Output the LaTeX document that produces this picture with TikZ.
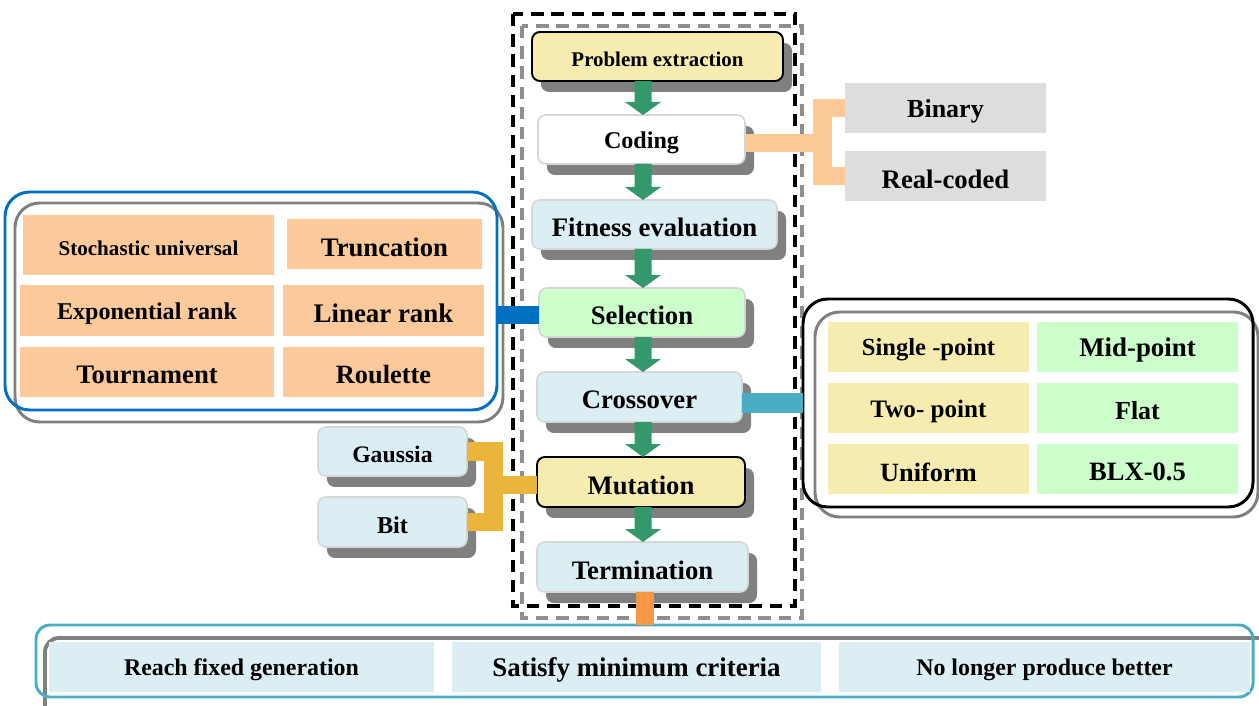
\documentclass[tikz,border=0pt]{standalone}
\usepackage{fontspec}
\setmainfont{Liberation Serif}
\usetikzlibrary{fit,shadows,calc}
\definecolor{yel}{HTML}{F7ECB0}
\definecolor{lblue}{HTML}{DAEEF3}
\definecolor{lgreen}{HTML}{CCFFCC}
\definecolor{org}{HTML}{FBC99A}
\definecolor{cellgray}{HTML}{DDDDDD}
\definecolor{boxline}{HTML}{D6D6D6}
\definecolor{shadowgray}{HTML}{808080}
\definecolor{agreen}{HTML}{33996A}
\definecolor{peach}{HTML}{FBC896}
\definecolor{goldc}{HTML}{EAB53A}
\definecolor{selblue}{HTML}{0070C0}
\definecolor{tealc}{HTML}{4BACC6}
\definecolor{orangec}{HTML}{F79646}
\definecolor{dashgray}{HTML}{8E8E8E}
\newcommand\fsz[1]{\fontsize{#1}{#1}\selectfont\bfseries}
\begin{document}
\begin{tikzpicture}[x=0.02cm,y=-0.02cm,
  box/.style={rectangle, inner sep=0pt, outer sep=0pt},
  T/.style 2 args={label={[font=\fsz{#1}, inner sep=0pt, yshift=-0.06cm]center:#2}},
  shad/.style={drop shadow={shadow xshift=0.18cm, shadow yshift=-0.22cm, opacity=1, fill=shadowgray}},
  mainbox/.style={box, rounded corners=4.5pt, draw=boxline, line width=0.9pt, shad},
  darkbox/.style={box, rounded corners=4.5pt, draw=black, line width=1.1pt, shad},
  cell/.style={box},
  panel/.style={rectangle, inner sep=0pt, outer sep=0pt, line width=1.7pt, rounded corners=14pt},
  blackdash/.style={draw=black, line width=2pt, dash pattern=on 7pt off 4.5pt},
  graydash/.style={draw=dashgray, line width=2pt, dash pattern=on 7pt off 4.5pt},
  bar/.style={line width=0.38cm, line cap=butt, line join=miter}
]
\useasboundingbox (0,0) rectangle (1259,706);
\clip (0,0) rectangle (1259,706);

% dashed frames
\draw[graydash] (522,26) rectangle (802,618);
\draw[blackdash] (513,14) rectangle (795,606);

% main column
\node[darkbox, fill=yel, fit={(532,32)(783,81)}, T={11.9}{Problem extraction}] (prob) {};
\node[mainbox, fill=white, fit={(538,115)(745,164)}, T={13.7}{Coding}] (coding) {};
\node[mainbox, fill=lblue, fit={(532,200)(777,249)}, T={15.2}{Fitness evaluation}] (fitn) {};
\node[mainbox, fill=lgreen, fit={(539,288)(745,337)}, T={15.2}{Selection}] (sel) {};
\node[mainbox, fill=lblue, fit={(537,372)(742,422)}, T={15.2}{Crossover}] (cross) {};
\node[darkbox, fill=yel, fit={(537,457)(745,507)}, T={15.2}{Mutation}] (mut) {};
\node[mainbox, fill=lblue, fit={(537,542)(748,592)}, T={15.2}{Termination}] (term) {};

% green arrows
\coordinate (ax) at (643,0);
\foreach \a/\b in {prob/coding, coding/fitn, fitn/sel, sel/cross, cross/mut, mut/term}{
  \fill[agreen] ($(\a.south -| ax)+(-8.5,0)$) -- ($(\b.north -| ax)+(-8.5,-13)$)
    -- ($(\b.north -| ax)+(-18,-13)$) -- (\b.north -| ax) -- ($(\b.north -| ax)+(18,-13)$)
    -- ($(\b.north -| ax)+(8.5,-13)$) -- ($(\a.south -| ax)+(8.5,0)$) -- cycle;
}

% coding options
\node[cell, fill=cellgray, fit={(845,83)(1046,133)}, T={14.8}{Binary}] (binary) {};
\node[cell, fill=cellgray, fit={(845,151)(1046,201)}, T={15.2}{Real-coded}] (real) {};
\coordinate (cj) at (822,143);
\draw[peach, bar] (binary.west) -| (cj) |- (real.west);
\draw[peach, bar] (coding.east |- cj) -- (cj);

% selection panel
\node[panel, draw=shadowgray, fit={(15,203)(503,422)}] (selshadow) {};
\node[panel, draw=selblue, fit={(5,192)(497,410)}] (selpanel) {};
\node[cell, fill=org, fit={(23,215)(274,275)}, T={12}{Stochastic universal}] (stoch) {};
\node[cell, fill=org, fit={(287,219)(482,269)}, T={15.2}{Truncation}] (trunc) {};
\node[cell, fill=org, fit={(20,285)(274,336)}, T={13.7}{Exponential rank}] (expr) {};
\node[cell, fill=org, fit={(283,285)(484,336)}, T={15.3}{Linear rank}] (lin) {};
\node[cell, fill=org, fit={(20,347)(274,397)}, T={15.2}{Tournament}] (tour) {};
\node[cell, fill=org, fit={(283,347)(484,397)}, T={15}{Roulette}] (roul) {};
\draw[selblue, line width=0.36cm] (sel.west) ++(0,2.5) coordinate (sc) -- (sc -| selpanel.east);

% crossover panel
\node[panel, draw=shadowgray, fit={(815,312)(1258,517)}] (xshadow) {};
\node[panel, draw=black, fit={(803,299)(1253,507)}] (xpanel) {};
\node[cell, fill=yel, fit={(828,322)(1029,372)}, T={14}{Single -point}] (single) {};
\node[cell, fill=yel, fit={(828,383)(1029,433)}, T={14.3}{Two- point}] (two) {};
\node[cell, fill=yel, fit={(828,444)(1029,494)}, T={15}{Uniform}] (unif) {};
\node[cell, fill=lgreen, fit={(1037,322)(1238,372)}, T={15.3}{Mid-point}] (midp) {};
\node[cell, fill=lgreen, fit={(1037,383)(1238,433)}, T={14.8}{Flat}] (flat) {};
\node[cell, fill=lgreen, fit={(1037,444)(1238,494)}, T={15.1}{BLX-0.5}] (blx) {};
\coordinate (tc) at ($(cross.east)+(0,6)$);
\draw[tealc, line width=0.4cm] (tc) -- (tc -| xpanel.west);

% mutation options
\node[mainbox, fill=lblue, fit={(318,427)(467,476)}, T={13.5}{Gaussia}] (gauss) {};
\node[mainbox, fill=lblue, fit={(318,497)(467,547)}, T={13.8}{Bit}] (bit) {};
\coordinate (mj) at (493,485);
\draw[goldc, bar] (gauss.east) -| (mj) |- (bit.east);
\draw[goldc, bar] (mj) -- (mj -| mut.west);

% termination panel
\node[panel, draw=shadowgray, line width=2.2pt, rounded corners=8pt, fit={(45,638)(1275,725)}] (botshadow) {};
\node[panel, draw=tealc, rounded corners=8pt, fit={(36,625)(1253,697)}] (botpanel) {};
\node[cell, fill=lblue, fit={(49,642)(434,692)}, T={13.6}{Reach fixed generation}] (reach) {};
\node[cell, fill=lblue, fit={(452,642)(821,692)}, T={15.3}{Satisfy minimum criteria}] (satisfy) {};
\node[cell, fill=lblue, fit={(839,642)(1250,692)}, T={13.6}{No longer produce better}] (nolonger) {};
\draw[orangec, line width=0.36cm] (term.south) ++(2.5,0) coordinate (oc) -- (oc |- botpanel.north);
\end{tikzpicture}
\end{document}
